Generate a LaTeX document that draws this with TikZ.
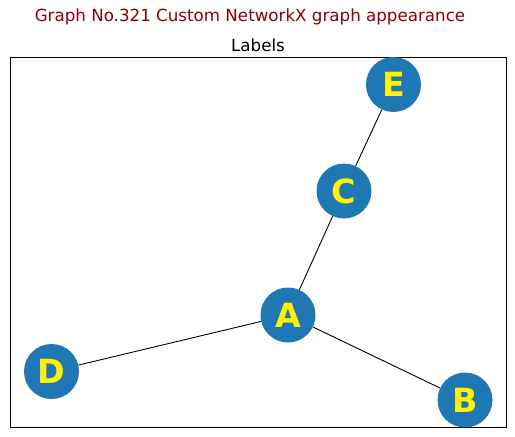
\documentclass[tikz,border=0pt]{standalone}
\usepackage{fontspec}
\setmainfont{DejaVu Sans}
\usepackage{xcolor}
\usepackage{tikz}
\usetikzlibrary{arrows.meta, positioning}

\definecolor{nodeblue}{HTML}{1F77B4}
\definecolor{titlered}{HTML}{8B0000}

\begin{document}
\begin{tikzpicture}[
    x=1pt, y=-1pt,
    vertex/.style={circle, fill=nodeblue, draw=none, minimum size=55pt, inner sep=0pt,
        text=yellow, font=\fontsize{33.3}{33.3}\selectfont\bfseries},
    edge/.style={draw=black, line width=0.9pt},
]
\useasboundingbox (0,0) rectangle (515,437);

% titles
\node[text=titlered, font=\fontsize{16.7}{16.7}\selectfont] (title) at (250,17)
    {Graph No.321 Custom NetworkX graph appearance};
\node[font=\fontsize{16.7}{16.7}\selectfont] (subtitle) at (258,45) {Labels};

% axes frame
\draw[line width=0.8pt] (10.5,57.5) rectangle (506,427);

% nodes
\node[vertex] (A) at (288,315) {A};
\node[vertex] (B) at (465,400) {B};
\node[vertex] (C) at (344,191) {C};
\node[vertex] (D) at (51.5,371.5) {D};
\node[vertex] (E) at (393.5,84.5) {E};

% edges
\draw[edge] (A) -- (C);
\draw[edge] (C) -- (E);
\draw[edge] (A) -- (D);
\draw[edge] (A) -- (B);

\end{tikzpicture}
\end{document}
